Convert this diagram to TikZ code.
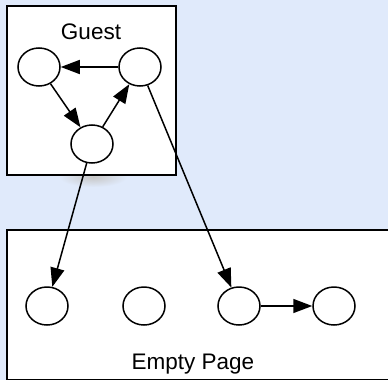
\documentclass[tikz,border=0pt]{standalone}
\usepackage{fontspec}
\setmainfont{Liberation Sans}
\usetikzlibrary{shapes.geometric,arrows.meta}
\definecolor{bgblue}{RGB}{224,234,251}
\tikzset{
  vert/.style={draw=black,fill=white,ellipse,minimum width=42pt,minimum height=38pt,inner sep=0pt,line width=1.5pt},
  box/.style={draw=black,fill=white,line width=1.6pt},
  conn/.style={line width=1.5pt,-{Triangle[length=19pt,width=14pt]}},
  lbl/.style={font=\fontsize{22.5}{26}\selectfont,anchor=base,inner sep=0pt}
}
\begin{document}
\begin{tikzpicture}[x=1pt,y=-1pt]
\fill[bgblue] (0,0) rectangle (388,380);
\useasboundingbox (0,0) rectangle (388,380);
% shadow under guest box
\shade[inner color=black!22,outer color=bgblue] (93,177) ellipse (34 and 10);
% boxes
\draw[box] (7,6) rectangle (176,175);
\draw[box] (7,230) rectangle (400,379.5);
\node[lbl] (guestlbl) at (91,39) {Guest};
\node[lbl] (pagelbl) at (193,369) {Empty Page};
% guest nodes
\node[vert] (gl) at (39,67) {};
\node[vert] (gr) at (140,67) {};
\node[vert] (gb) at (92,144) {};
% page nodes
\node[vert] (p1) at (47,306) {};
\node[vert] (p2) at (144,306) {};
\node[vert] (p3) at (239,306) {};
\node[vert] (p4) at (334,306) {};
% connectors
\draw[conn] (gr) -- (gl);
\draw[conn] (gl) -- (gb);
\draw[conn] (gb) -- (gr);
\draw[conn] (gb) -- (p1);
\draw[conn] (gr) -- (p3);
\draw[conn] (p3) -- (p4);
\end{tikzpicture}
\end{document}
